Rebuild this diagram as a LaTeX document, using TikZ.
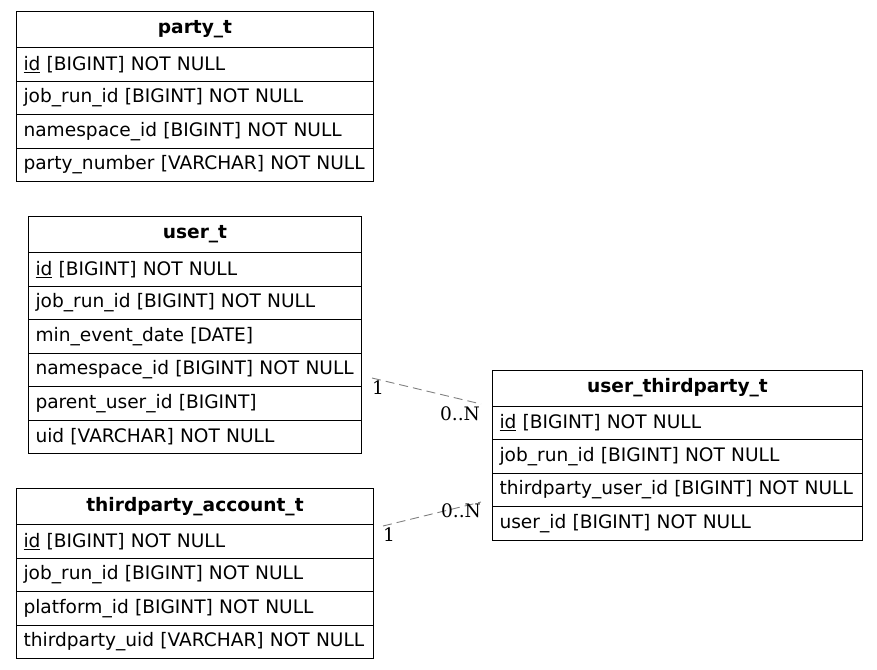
\documentclass[tikz,border=0pt]{standalone}
\usepackage{fontspec}
\setmainfont{DejaVu Sans}
\newfontfamily\lblfont{DejaVu Serif}
\usepackage{tikz}

\begin{document}
\begin{tikzpicture}[x=1pt, y=-1pt,
  tblhead/.style = {draw, line width=1pt, anchor=north west, inner sep=0pt, minimum height=36pt, font=\fontsize{18.6}{22}\selectfont\bfseries},
  field/.style = {draw, line width=1pt, anchor=north west, inner xsep=7pt, inner ysep=0pt, minimum height=33.5pt, align=left, font=\fontsize{18.6}{22}\selectfont},
  rel/.style = {gray, line width=0.9pt, dash pattern=on 9pt off 5pt},
  card/.style = {inner sep=0pt, font=\lblfont\fontsize{18.6}{22}\selectfont}]
\useasboundingbox (0,0) rectangle (877,669);

% party_t
\node[tblhead, minimum width=357pt] (p0) at (16,11) {party\_t};
\node[field, text width=343pt] (p1) at (16,47) {\underline{id} [BIGINT] NOT NULL};
\node[field, text width=343pt] (p2) at (16,80.5) {job\_run\_id [BIGINT] NOT NULL};
\node[field, text width=343pt] (p3) at (16,114) {namespace\_id [BIGINT] NOT NULL};
\node[field, text width=343pt] (p4) at (16,147.5) {\mbox{party\_number [VARCHAR] NOT NULL}};

% user_t
\node[tblhead, minimum width=333pt] (u0) at (28,216) {user\_t};
\node[field, text width=319pt] (u1) at (28,252) {\underline{id} [BIGINT] NOT NULL};
\node[field, text width=319pt] (u2) at (28,285.5) {job\_run\_id [BIGINT] NOT NULL};
\node[field, text width=319pt] (u3) at (28,319) {min\_event\_date [DATE]};
\node[field, text width=319pt] (u4) at (28,352.5) {\mbox{namespace\_id [BIGINT] NOT NULL}};
\node[field, text width=319pt] (u5) at (28,386) {parent\_user\_id [BIGINT]};
\node[field, text width=319pt] (u6) at (28,419.5) {uid [VARCHAR] NOT NULL};

% thirdparty_account_t
\node[tblhead, minimum width=357pt] (a0) at (16,488) {thirdparty\_account\_t};
\node[field, text width=343pt] (a1) at (16,524) {\underline{id} [BIGINT] NOT NULL};
\node[field, text width=343pt] (a2) at (16,557.5) {job\_run\_id [BIGINT] NOT NULL};
\node[field, text width=343pt] (a3) at (16,591) {platform\_id [BIGINT] NOT NULL};
\node[field, text width=343pt] (a4) at (16,624.5) {\mbox{thirdparty\_uid [VARCHAR] NOT NULL}};

% user_thirdparty_t
\node[tblhead, minimum width=370pt] (t0) at (492,369.5) {user\_thirdparty\_t};
\node[field, text width=356pt] (t1) at (492,405.5) {\underline{id} [BIGINT] NOT NULL};
\node[field, text width=356pt] (t2) at (492,439) {job\_run\_id [BIGINT] NOT NULL};
\node[field, text width=356pt] (t3) at (492,472.5) {\mbox{thirdparty\_user\_id [BIGINT] NOT NULL}};
\node[field, text width=356pt] (t4) at (492,506) {user\_id [BIGINT] NOT NULL};

% relations
\coordinate (r1s) at (372,378);
\coordinate (r1e) at (481,404);
\coordinate (r2s) at (383,526);
\coordinate (r2e) at (481,502);
\draw[rel] (r1s) -- (r1e);
\draw[rel] (r2s) -- (r2e);
\node[card] (r1a) at (378,388) {1};
\node[card] (r1b) at (460,414) {0..N};
\node[card] (r2a) at (389,535) {1};
\node[card] (r2b) at (461,511) {0..N};
\end{tikzpicture}
\end{document}
